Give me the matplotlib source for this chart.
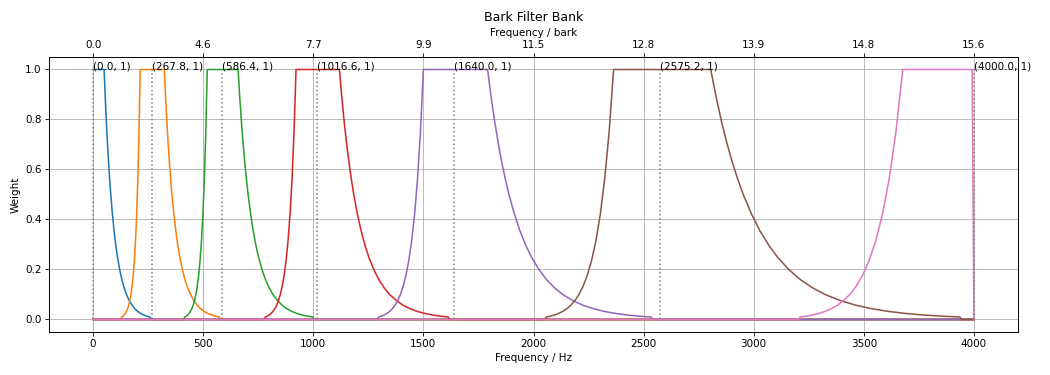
import matplotlib
matplotlib.use("Agg")
import matplotlib.pyplot as plt

# weights shared by every filter (rising edge, falling edge)
rise_w = [0.01, 0.0133, 0.0178, 0.0237, 0.0316, 0.0422, 0.0562, 0.075, 0.1,
          0.1334, 0.1778, 0.2371, 0.3162, 0.4217, 0.5623, 0.7499, 1.0]
fall_w = [1.0, 0.8913, 0.7943, 0.7079, 0.631, 0.5623, 0.5012, 0.4217, 0.3548,
          0.2985, 0.2512, 0.1995, 0.1585, 0.1259, 0.1, 0.075, 0.0562, 0.0422,
          0.0316, 0.0237, 0.0178, 0.0133, 0.01]

# frequencies (Hz) of the rising / falling edges
rise_hz = [
    [],
    [130.6, 135.75, 140.9, 146.0, 151.1, 156.3, 161.5, 166.7, 171.9, 177.1, 182.3,
     187.55, 192.8, 198.05, 203.3, 208.6, 213.9],
    [417.0, 423.15, 429.3, 435.45, 441.6, 447.85, 454.1, 460.4, 466.7, 473.1, 479.5,
     485.9, 492.3, 498.8, 505.3, 511.9, 518.5],
    [782.8, 791.05, 799.3, 807.7, 816.1, 824.6, 833.1, 841.7, 850.3, 859.05, 867.8,
     876.65, 885.5, 894.5, 903.5, 912.5, 921.7],
    [1297.4, 1309.4, 1321.4, 1333.55, 1345.7, 1358.1, 1370.5, 1383.05, 1395.6, 1408.35,
     1421.1, 1434.05, 1447.0, 1460.15, 1473.3, 1486.6, 1500.1],
    [2058.6, 2076.6, 2094.6, 2112.9, 2131.2, 2149.8, 2168.4, 2187.3, 2206.2, 2225.4,
     2244.6, 2264.15, 2283.7, 2303.5, 2323.3, 2343.4, 2363.7],
    [3211.2, 3238.65, 3266.1, 3294.0, 3321.9, 3350.25, 3378.6, 3407.45, 3436.3, 3465.6,
     3494.9, 3524.7, 3554.5, 3584.8, 3615.1, 3645.7, 3676.7],
]
fall_hz = [
    [50.1, 55.1, 60.1, 65.15, 70.2, 75.2, 80.2, 87.8, 95.4, 103.0, 110.6, 120.8, 131.0,
     141.3, 151.6, 164.55, 177.5, 190.6, 203.7, 217.0, 230.3, 243.8, 257.3],
    [323.5, 329.2, 334.9, 340.65, 346.4, 352.2, 358.0, 366.8, 375.6, 384.5, 393.4, 405.45,
     417.5, 429.85, 442.2, 457.9, 473.6, 489.75, 505.9, 522.45, 539.0, 556.05, 573.1],
    [658.5, 665.95, 673.4, 680.95, 688.5, 696.2, 703.9, 715.55, 727.2, 739.1, 751.0, 767.25,
     783.5, 800.15, 816.8, 838.3, 859.8, 882.0, 904.2, 927.2, 950.2, 974.05, 997.9],
    [1118.6, 1129.25, 1139.9, 1150.75, 1161.6, 1172.55, 1183.5, 1200.3, 1217.1, 1234.25,
     1251.4, 1274.85, 1298.3, 1322.5, 1346.7, 1378.05, 1409.4, 1441.9, 1474.4, 1508.25,
     1542.1, 1577.25, 1612.4],
    [1791.5, 1807.35, 1823.2, 1839.3, 1855.4, 1871.8, 1888.2, 1913.25, 1938.3, 1964.0,
     1989.7, 2024.9, 2060.1, 2096.4, 2132.7, 2179.8, 2226.9, 2275.95, 2325.0, 2376.05,
     2427.1, 2480.25, 2533.4],
    [2804.9, 2829.0, 2853.1, 2877.6, 2902.1, 2927.0, 2951.9, 2990.0, 3028.1, 3067.15,
     3106.2, 3159.8, 3213.4, 3268.8, 3324.2, 3395.3, 3467.9, 3542.0, 3617.6, 3694.8,
     3773.5, 3854.0, 3936.1],
    [3992.0],
]

centers = [0.0, 267.8, 586.4, 1016.6, 1640.0, 2575.2, 4000.0]
hz_ticks = [0, 500, 1000, 1500, 2000, 2500, 3000, 3500, 4000]
bark_labels = ["0.0", "4.6", "7.7", "9.9", "11.5", "12.8", "13.9", "14.8", "15.6"]
f_max = 4000.0
step = 7.8  # spacing of the frequency bins

fig = plt.figure(figsize=(14, 5), dpi=75)
ax = fig.add_subplot(1, 1, 1)
fig.subplots_adjust(left=0.0467, right=0.9695, bottom=0.1147, top=0.848)

for i in range(len(centers)):
    xs, ys = [], []
    if rise_hz[i]:
        xs += [0.0, rise_hz[i][0] - step] + rise_hz[i]
        ys += [0.0, 0.0] + rise_w
    else:
        xs += [0.0]
        ys += [1.0]
    if i < len(centers) - 1:
        xs += fall_hz[i] + [fall_hz[i][-1] + step, f_max]
        ys += fall_w + [0.0, 0.0]
    else:
        xs += fall_hz[i] + [f_max]
        ys += [1.0, 0.0]
    ax.plot(xs, ys)

ax.vlines(centers, 0, 1, colors="gray", linestyles="dotted")
for c in centers:
    ax.annotate("(%.1f, 1)" % c, (c, 1))

ax.set_xticks(hz_ticks)
ax.set_xlabel("Frequency / Hz")
ax.set_ylabel("Weight")
ax.grid(True)

ax2 = ax.twiny()
ax2.set_xlim(ax.get_xlim())
ax2.set_xticks(hz_ticks)
ax2.set_xticklabels(bark_labels)
ax2.set_xlabel("Frequency / bark")
ax2.set_title("Bark Filter Bank")

fig.savefig("out.png", dpi=75)
